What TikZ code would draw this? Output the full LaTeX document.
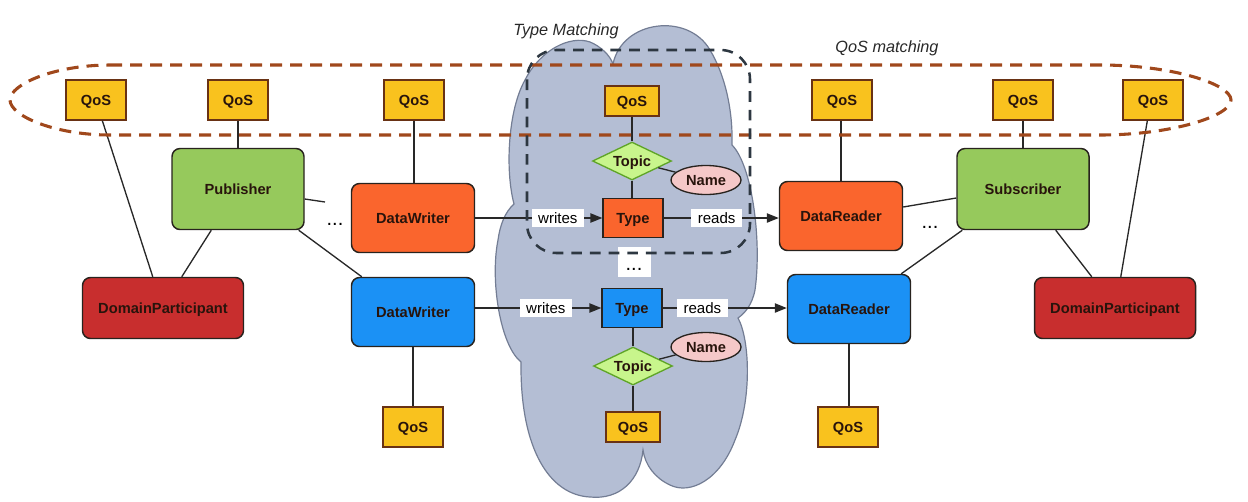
\documentclass[tikz,border=0pt]{standalone}
\usepackage{fontspec}
\setmainfont{Liberation Sans}
\usetikzlibrary{shapes.geometric,arrows.meta,calc}
\definecolor{qosfill}{RGB}{249,194,30}
\definecolor{qosdraw}{RGB}{105,50,20}
\definecolor{greenfill}{RGB}{150,201,92}
\definecolor{orangefill}{RGB}{250,101,45}
\definecolor{bluefill}{RGB}{27,145,245}
\definecolor{redfill}{RGB}{200,46,46}
\definecolor{topicfill}{RGB}{200,245,140}
\definecolor{topicdraw}{RGB}{95,165,40}
\definecolor{namefill}{RGB}{245,200,200}
\definecolor{cloudfill}{RGB}{180,190,212}
\definecolor{clouddraw}{RGB}{115,125,148}
\definecolor{boxdraw}{RGB}{40,35,30}
\definecolor{textdark}{RGB}{40,20,12}
\definecolor{linecol}{RGB}{40,40,40}
\definecolor{browndash}{RGB}{160,72,28}
\definecolor{slatedash}{RGB}{45,55,65}
\tikzset{
  boxfont/.style={font=\fontsize{11}{13}\selectfont\bfseries, text=textdark, text height=7.9pt, text depth=0pt},
  basebox/.style={boxfont, draw=boxdraw, line width=1.1pt, rounded corners=6pt, inner sep=0pt},
  greenbox/.style={basebox, fill=greenfill, minimum width=99pt, minimum height=60.75pt},
  orangebox/.style={basebox, fill=orangefill, minimum width=92.25pt, minimum height=51.75pt},
  bluebox/.style={basebox, fill=bluefill, minimum width=92.25pt, minimum height=51.75pt},
  redbox/.style={basebox, fill=redfill, minimum width=120.75pt, minimum height=45.75pt},
  qos/.style={boxfont, draw=qosdraw, fill=qosfill, line width=1pt, minimum width=45pt, minimum height=30pt, inner sep=0pt},
  qoss/.style={qos, minimum width=40.5pt, minimum height=22.5pt},
  typebox/.style={boxfont, draw=boxdraw, line width=1pt, minimum width=45pt, minimum height=29.25pt, inner sep=0pt},
  topic/.style={boxfont, diamond, aspect=2.08, draw=topicdraw, fill=topicfill, line width=1pt, minimum width=59.25pt, minimum height=28.5pt, inner sep=0pt},
  namenode/.style={boxfont, ellipse, draw=boxdraw, fill=namefill, line width=1pt, minimum width=52.5pt, minimum height=21.75pt, inner sep=0pt},
  lbl/.style={fill=white, font=\fontsize{11.3}{13}\selectfont, text=black, inner xsep=5pt, inner ysep=2.5pt, text height=8pt, text depth=0.5pt},
  dotsbox/.style={fill=white, font=\fontsize{15}{17}\selectfont, minimum width=24.75pt, minimum height=22.5pt, inner sep=0pt, text height=15pt, text depth=2pt},
  dotsnode/.style={font=\fontsize{15}{17}\selectfont, inner sep=0pt},
  conn/.style={draw=linecol, line width=1pt},
  arr/.style={conn, -{Triangle[length=9pt,width=7pt]}},
  caption/.style={font=\fontsize{12.2}{14}\selectfont\itshape, text=linecol, inner sep=0pt}
}
\begin{document}
\begin{tikzpicture}[x=0.75pt,y=-0.75pt]
\useasboundingbox (0,0) rectangle (1248,501);

% cloud
\path[fill=cloudfill, draw=clouddraw, line width=0.9pt]
 (613,64)
 .. controls (622,20) and (688,12) .. (710,50)
 .. controls (725,75) and (733,110) .. (732,145)
 .. controls (752,165) and (762,240) .. (755,290)
 .. controls (752,305) and (745,313) .. (738,318)
 .. controls (750,340) and (752,400) .. (735,440)
 .. controls (720,480) and (690,495) .. (670,485)
 .. controls (655,478) and (645,465) .. (643,450)
 .. controls (640,480) and (620,500) .. (590,497)
 .. controls (550,495) and (520,450) .. (521,362)
 .. controls (500,345) and (490,280) .. (498,240)
 .. controls (500,225) and (505,212) .. (514,204)
 .. controls (505,170) and (508,110) .. (525,80)
 .. controls (540,50) and (570,35) .. (590,42)
 .. controls (600,46) and (610,55) .. (613,64)
 -- cycle;

% QoS boxes
\node[qos] (q1) at (96,100) {QoS};
\node[qos] (q2) at (238,100) {QoS};
\node[qos] (q3) at (414,100) {QoS};
\node[qoss] (q4) at (632,101) {QoS};
\node[qos] (q5) at (842,100) {QoS};
\node[qos] (q6) at (1023,100) {QoS};
\node[qos] (q7) at (1153,100) {QoS};
\node[qos] (qb1) at (413,427) {QoS};
\node[qoss] (qb2) at (633,427) {QoS};
\node[qos] (qb3) at (848,427) {QoS};

% entities
\node[greenbox] (pub) at (238,189) {Publisher};
\node[greenbox] (sub) at (1023,189) {Subscriber};
\node[orangebox] (dwo) at (413,218) {DataWriter};
\node[bluebox] (dwb) at (413,312) {DataWriter};
\node[redbox] (dpl) at (163,308) {DomainParticipant};
\node[redbox] (dpr) at (1115,308) {DomainParticipant};
\node[orangebox] (dro) at (841,216) {DataReader};
\node[bluebox] (drb) at (849,309) {DataReader};

% centre
\node[topic] (tpt) at (632,161) {Topic};
\node[namenode] (nmt) at (706,180) {Name};
\node[typebox, fill=orangefill] (tyt) at (633,218) {Type};
\node[dotsbox] (dotm) at (634,262) {...};
\node[typebox, fill=bluefill] (tyb) at (632,308) {Type};
\node[namenode] (nmb) at (706,347) {Name};
\node[topic] (tpb) at (633,366) {Topic};

\node[dotsnode] (dotl) at (335,224) {...};
\node[dotsnode] (dotr) at (930,227) {...};
\coordinate (stub) at (325,202);

% connectors left
\draw[conn] ([xshift=27.75pt]q1.south west) -- ([xshift=53.25pt]dpl.north west);
\draw[conn] ([xshift=30pt]pub.south west) -- ([xshift=75pt]dpl.north west);
\draw[conn] (q2.south) -- (pub.north);
\draw[conn] ([yshift=-7.5pt]pub.east) -- (stub);
\draw[conn] ([xshift=-4.5pt]pub.south east) -- ([xshift=8.25pt]dwb.north west);
\draw[conn] (q3.south) -- (q3.south |- dwo.north);
\draw[conn] (dwb.south) -- (dwb.south |- qb1.north);

% centre connectors
\draw[conn] (q4.south) -- (tpt.north);
\draw[conn] (tpt.south) -- (tpt.south |- tyt.north);
\draw[conn] (tpt) -- (nmt);
\draw[conn] (tyb.south) -- (tyb.south -| tpb.north) -- (tpb.north);
\draw[conn] (tpb) -- (nmb);
\draw[conn] (tpb.south) -- (tpb.south |- qb2.north);

% arrows
\draw[arr] (tyt.west -| dwo.east) -- node[lbl, pos=0.65] (wrt) {writes} (tyt.west);
\draw[arr] (tyt.east) -- node[lbl, pos=0.46] (rdt) {reads} (tyt.east -| dro.west);
\draw[arr] (tyb.west -| dwb.east) -- node[lbl, pos=0.56] (wrb) {writes} (tyb.west);
\draw[arr] (tyb.east) -- node[lbl, pos=0.32] (rdb) {reads} (tyb.east -| drb.west);

% connectors right
\draw[conn] (dro.north) -- (dro.north |- q5.south);
\draw[conn] ([yshift=6.75pt]dro.east) -- ([yshift=-6.75pt]sub.west);
\draw[conn] ([xshift=4.5pt]sub.south west) -- ([xshift=-7.5pt]drb.north east);
\draw[conn] (q6.south) -- (sub.north);
\draw[conn] ([xshift=-25.5pt]sub.south east) -- ([xshift=43.5pt]dpr.north west);
\draw[conn] ([xshift=18.75pt]q7.south west) -- ([xshift=65.25pt]dpr.north west);
\draw[conn] (drb.south) -- (drb.south |- qb3.north);

% QoS matching band
\draw[draw=browndash, line width=2.3pt, dash pattern=on 9pt off 6pt]
 (110,65) -- (1100,65)
 .. controls (1172,65) and (1231,84) .. (1231,100)
 .. controls (1231,116) and (1172,135) .. (1100,135)
 -- (110,135)
 .. controls (55,135) and (10,116) .. (10,100)
 .. controls (10,84) and (55,65) .. cycle;

% Type matching frame
\draw[draw=slatedash, line width=1.9pt, dash pattern=on 8pt off 6pt, rounded corners=22pt]
 (527,50) rectangle (750,253);

\node[caption] (tmlabel) at (566,31) {Type Matching};
\node[caption] (qmlabel) at (887,48) {QoS matching};
\end{tikzpicture}
\end{document}
